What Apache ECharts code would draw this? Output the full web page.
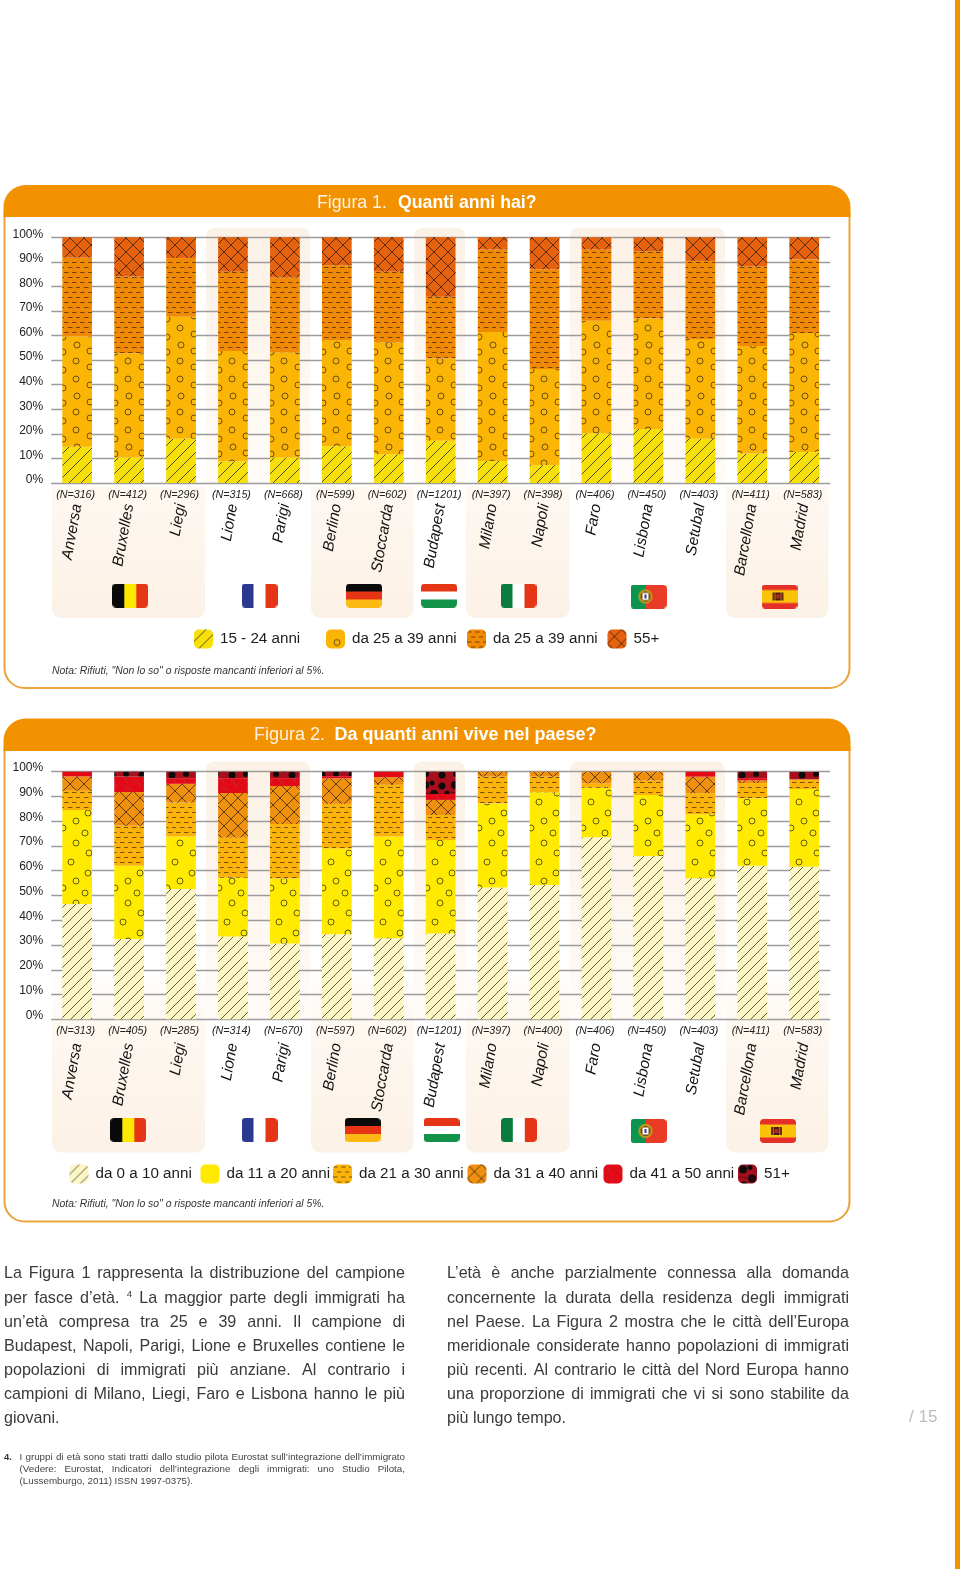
<!DOCTYPE html>
<html><head><meta charset="utf-8">
<style>html,body{margin:0;padding:0;background:#fff}#c{width:960px;height:1569px}</style>
<script src="https://cdn.jsdelivr.net/npm/echarts@6/dist/echarts.min.js"></script>
</head><body><div id="c"></div>
<script>
// ---------- data ----------
const cities = ['Anversa','Bruxelles','Liegi','Lione','Parigi','Berlino','Stoccarda','Budapest','Milano','Napoli','Faro','Lisbona','Setubal','Barcellona','Madrid'];
const yTicks = [0,10,20,30,40,50,60,70,80,90,100];
const nLabels1 = ['(N=316)','(N=412)','(N=296)','(N=315)','(N=668)','(N=599)','(N=602)','(N=1201)','(N=397)','(N=398)','(N=406)','(N=450)','(N=403)','(N=411)','(N=583)'];
const nLabels2 = ['(N=313)','(N=405)','(N=285)','(N=314)','(N=670)','(N=597)','(N=602)','(N=1201)','(N=397)','(N=400)','(N=406)','(N=450)','(N=403)','(N=411)','(N=583)'];
const age15to24 = [14.8,10.4,18,8.7,10.4,15,11.7,17.2,9,7.3,20.2,22,18,12,12.6];
const age25to39a = [44.8,42.4,49.7,45,42.8,43.2,45.6,33.5,52.5,39.1,45.8,45,40.6,43.8,48.4];
const age25to39b = [32.1,31.2,23.9,32.3,30.4,30.4,28.7,25.1,33.5,40.6,29,27.3,31.8,32.4,30];
const age55plus = [8.3,16,8.4,14,16.4,11.4,14,24.2,5,13,5,5.7,9.6,11.8,9];
const yrs0to10 = [46.6,32.4,52.6,33.4,30.6,34.3,32.7,34.7,53.2,54.2,73.5,66,57,62,61.6];
const yrs11to20 = [37.9,29.6,21.2,23.8,26.3,34.7,41.1,37.7,34,37.5,20,24.6,25.8,27.3,31.4];
const yrs21to30 = [7.8,16.2,13.7,16.2,22,18,20.9,10.1,10.8,6.3,1.8,5.8,8.5,6.1,3.9];
const yrs31to40 = [5.8,13.6,7.6,18,15.3,10.3,3.1,6.1,2,2,4.7,3.6,6.7,1.1,0];
const yrs41to50 = [1.9,6.2,2.3,6,3.2,0.9,2.2,2.4,0,0,0,0,2,0.9,0];
const yrs51plus = [0,2,2.6,2.6,2.6,1.8,0,9,0,0,0,0,0,2.6,3];
const legend1 = ['15 - 24 anni','da 25 a 39 anni','da 25 a 39 anni ','55+'];
const legend2 = ['da 0 a 10 anni','da 11 a 20 anni','da 21 a 30 anni','da 31 a 40 anni','da 41 a 50 anni','51+'];
const leftCol = [
 'La Figura 1 rappresenta la distribuzione del campione',
 'per fasce d’età. ^4 La maggior parte degli immigrati ha',
 'un’età compresa tra 25 e 39 anni. Il campione di',
 'Budapest, Napoli, Parigi, Lione e Bruxelles contiene le',
 'popolazioni di immigrati più anziane. Al contrario i',
 'campioni di Milano, Liegi, Faro e Lisbona hanno le più',
 'giovani.'];
const rightCol = [
 'L’età è anche parzialmente connessa alla domanda',
 'concernente la durata della residenza degli immigrati',
 'nel Paese. La Figura 2 mostra che le città dell’Europa',
 'meridionale considerate hanno popolazioni di immigrati',
 'più recenti. Al contrario le città del Nord Europa hanno',
 'una proporzione di immigrati che vi si sono stabilite da',
 'più lungo tempo.'];
const footnote = [
 'I gruppi di età sono stati tratti dallo studio pilota Eurostat sull’integrazione dell’immigrato',
 '(Vedere: Eurostat, Indicatori dell’integrazione degli immigrati: uno Studio Pilota,',
 '(Lussemburgo, 2011) ISSN 1997-0375).'];

// ---------- patterns ----------
const FF = "'Liberation Sans', Arial, sans-serif";
function tile(w,h,bg,draw){const c=document.createElement('canvas');c.width=w;c.height=h;const g=c.getContext('2d');g.fillStyle=bg;g.fillRect(0,0,w,h);draw(g,w,h);return {image:c,repeat:'repeat'};}
function diag(g,s,col,lw){g.strokeStyle=col;g.lineWidth=lw;g.beginPath();g.moveTo(-2,s+2);g.lineTo(s+2,-2);g.moveTo(-2,2);g.lineTo(2,-2);g.moveTo(s-2,s+2);g.lineTo(s+2,s-2);g.stroke();}
function anti(g,s,col,lw){g.strokeStyle=col;g.lineWidth=lw;g.beginPath();g.moveTo(-2,-2);g.lineTo(s+2,s+2);g.moveTo(-2,s-2);g.lineTo(2,s+2);g.moveTo(s-2,-2);g.lineTo(s+2,2);g.stroke();}
function hatch(s,bg,col,lw){return tile(s,s,bg,(g)=>diag(g,s,col,lw));}
function cross(s,bg,col,lw){return tile(s,s,bg,(g)=>{diag(g,s,col,lw);anti(g,s,col,lw);});}
function dashes(bg,col){return tile(16,10,bg,(g)=>{g.strokeStyle=col;g.lineWidth=0.9;g.beginPath();
  [[0,2.5],[8,2.5]].forEach(p=>{g.moveTo(p[0],p[1]);g.lineTo(p[0]+4.5,p[1]);});
  [[4,7.5],[12,7.5]].forEach(p=>{g.moveTo(p[0],p[1]);g.lineTo(p[0]+4.5,p[1]);});g.stroke();});}
function rings(bg,col,h,pts){
  return tile(52,h,bg,(g,w,hh)=>{g.strokeStyle=col;g.lineWidth=1;pts.forEach(p=>{[-w,0,w].forEach(dx=>[-hh,0,hh].forEach(dy=>{g.beginPath();g.arc(p[0]+dx,p[1]+dy,3,0,7);g.stroke();}));});});}
const patYellowHatch = hatch(12,'#F7DF0A','#2a2a1a',0.8);
const patAmberRings = rings('#FAB505','#6e4d10',51,[[24,4],[38,10],[11,13],[24,22],[38,28],[11,31],[25,39],[38,45],[11,46]]);
const patOrangeDash = dashes('#F08A05','#6a3a08');
const patRedCross = cross(14,'#E5620F','#3a1a0a',0.8);
const patPaleHatch = hatch(10,'#FCF6C4','#2a2a1a',0.75);
const patYellowRings = rings('#FFEA00','#5f5c10',60,[[24,3],[37,13],[19,22],[36,33],[24,41],[11,48],[33,53]]);
const patAmberDash = dashes('#FBB30A','#6a4a08');
const patOrangeCross = cross(14,'#F0900F','#3a2a0a',0.8);
const patRed = tile(24,18,'#E30A17',(g)=>{g.strokeStyle='rgba(130,110,110,.55)';g.lineWidth=0.8;g.beginPath();g.moveTo(3,2);g.lineTo(8,9);g.moveTo(15,5);g.lineTo(21,13);g.moveTo(6,13);g.lineTo(11,16);g.stroke();});
const patBlobs = tile(30,26,'#A80F1C',(g)=>{g.fillStyle='#0b0b0b';[[5,5,4],[12,3,2.5],[22,6,3.5],[27,13,2.5],[14,14,4],[6,20,3],[22,21,3.5]].forEach(b=>{g.beginPath();g.arc(b[0],b[1],b[2],0,7);g.fill();});
  g.strokeStyle='#5e0a10';g.lineWidth=1;g.beginPath();g.moveTo(0,12);g.lineTo(30,17);g.stroke();});

// ---------- flags ----------
function flag(draw){const c=document.createElement('canvas');c.width=36;c.height=24;const g=c.getContext('2d');g.beginPath();g.roundRect(0,0,36,24,4);g.clip();draw(g);return c;}
function vbars(g,a){a.forEach((col,i)=>{g.fillStyle=col;g.fillRect(i*12,0,12.5,24);});}
function hbars(g,a){a.forEach((col,i)=>{g.fillStyle=col;g.fillRect(0,i*8,36,8.5);});}
const flagBE = flag(g=>vbars(g,['#0a0a0a','#FFE800','#E53516']));
const flagFR = flag(g=>vbars(g,['#2B3A8F','#ffffff','#E53516']));
const flagDE = flag(g=>hbars(g,['#0a0a0a','#E53516','#FDB913']));
const flagHU = flag(g=>hbars(g,['#E53516','#ffffff','#13934A']));
const flagIT = flag(g=>vbars(g,['#0A7A3E','#ffffff','#E53516']));
const flagPT = flag(g=>{g.fillStyle='#E93B26';g.fillRect(0,0,36,24);g.fillStyle='#0F9450';g.fillRect(0,0,15,24);
  g.fillStyle='#C9A514';g.beginPath();g.arc(15,12,7,0,7);g.fill();g.fillStyle='#7A4A18';g.beginPath();g.arc(15,12,5.2,0,7);g.fill();g.fillStyle='#fff';g.fillRect(12,8.5,6,7);g.fillStyle='#2B3A8F';g.fillRect(14,10,2,4);});
const flagES = flag(g=>{g.fillStyle='#E5302A';g.fillRect(0,0,36,24);g.fillStyle='#FBC20A';g.fillRect(0,5.5,36,13);
  g.fillStyle='#6b2a12';g.fillRect(11,8,2,8);g.fillRect(20,8,2,8);g.fillStyle='#4a1d10';g.fillRect(13.5,8,6,8);g.fillStyle='#B5271C';g.fillRect(14.5,10,4,4);});

// ---------- graphics ----------
const gfx = [];
const add = (o)=>{o.silent=true;gfx.push(o);};
const txt = (x,y,s,font,fill,extra)=>add(Object.assign({type:'text',z:6,x:x,y:y,style:{text:s,font:font,fill:fill,align:'left',verticalAlign:'middle'}},extra||{}));
const BAND='#FCF1E6', ORANGE='#F39200', EDGE='#EBA33A';
function grad(stops){return {type:'linear',x:0,y:0,x2:0,y2:1,colorStops:stops};}
function panel(top,headBottom,bottom){
  add({type:'rect',z:-30,shape:{x:4.5,y:headBottom-3,width:845,height:bottom-headBottom+3,r:[0,0,20,20]},style:{fill:'#fff',stroke:EDGE,lineWidth:2}});
  add({type:'rect',z:-28,shape:{x:3.5,y:top,width:847,height:headBottom-top,r:[22,22,0,0]},style:{fill:ORANGE}});
}
function bands(topY,axisY,bottomY,fadeTop){
  [[206,104],[414,51],[570,155]].forEach(b=>add({type:'rect',z:-20,shape:{x:b[0],y:topY,width:b[1],height:axisY-topY,r:[8,8,0,0]},style:{fill:grad([{offset:0,color:BAND},{offset:1,color:'#FFFBF7'}])}}));
  [[52,153],[311,102.5],[466,103.5],[726,102.5]].forEach(b=>add({type:'rect',z:-20,shape:{x:b[0],y:fadeTop,width:b[1],height:bottomY-fadeTop,r:[0,0,9,9]},style:{fill:grad([{offset:0,color:'rgba(253,246,238,0)'},{offset:Math.min(0.99,(axisY+6-fadeTop)/(bottomY-fadeTop)),color:'#FEF8F1'},{offset:1,color:BAND}])}}));
}
function flags(list,w){list.forEach(f=>add({type:'image',z:-5,x:f[1],y:f[2],style:{image:f[0],x:0,y:0,width:w,height:24}}));}
function justify(line,x,w,y,size,fill,last){
  const ctx=document.createElement('canvas').getContext('2d');
  const font=size+"px "+FF, supFont=(size*0.6)+"px "+FF;
  const words=line.split(' ').map(t=>t[0]==='^'?{t:t.slice(1),sup:true}:{t:t,sup:false});
  words.forEach(o=>{ctx.font=o.sup?supFont:font;o.w=ctx.measureText(o.t).width;});
  ctx.font=font;const space=ctx.measureText(' ').width;
  const total=words.reduce((a,o)=>a+o.w,0);
  const gap=last?space:(w-total)/(words.length-1);
  let cx=x;words.forEach(o=>{txt(cx,o.sup?y-4:y,o.t,o.sup?supFont:font,fill);cx+=o.w+gap;});
}
add({type:'rect',z:-30,shape:{x:955,y:0,width:5,height:1569},style:{fill:ORANGE}});
panel(185,217,688);
panel(718.5,751,1221.5);
bands(228,483,618,484);
bands(761.5,1019.3,1152.5,966);
flags([[flagBE,112.3,583.5],[flagFR,241.5,583.5],[flagDE,346,583.5],[flagHU,421,583.5],[flagIT,500.5,583.5],[flagPT,630.5,584.5],[flagES,761.5,584.5]],36);
flags([[flagBE,110.3,1118],[flagFR,241.5,1118],[flagDE,344.5,1118],[flagHU,423.5,1118],[flagIT,500.8,1118],[flagPT,630.5,1119],[flagES,760,1119]],36);
txt(317,203,'Figura 1.',"17.7px "+FF,'rgba(255,255,255,.88)');
txt(398,203,'Quanti anni hai?',"bold 17.7px "+FF,'#fff');
txt(254,735,'Figura 2.',"18px "+FF,'rgba(255,255,255,.88)');
txt(334.5,735,'Da quanti anni vive nel paese?',"bold 18px "+FF,'#fff');
const notaText='Nota: Rifiuti, "Non lo so" o risposte mancanti inferiori al 5%.';
txt(52,671,notaText,"italic 10.4px "+FF,'#333');
txt(52,1204,notaText,"italic 10.4px "+FF,'#333');
const yBody=[1274,1298.2,1322.4,1346.5,1370.7,1394.9,1419];
leftCol.forEach((l,i)=>justify(l,4,401,yBody[i],16.1,'#3a3a39',i===leftCol.length-1));
rightCol.forEach((l,i)=>justify(l,447,402,yBody[i],16.1,'#3a3a39',i===rightCol.length-1));
txt(4,1457.5,'4.',"bold 9.4px "+FF,'#333');
[1457.5,1469.5,1481.5].forEach((y,i)=>justify(footnote[i],19.5,385.5,y,9.8,'#444',i===2));
txt(909,1417.5,'/ 15',"17px "+FF,'#bdbdbd');

// ---------- chart ----------
function axes(gridIdx,n){return [
 {type:'category',gridIndex:gridIdx,data:n,position:'bottom',axisLine:{show:false},axisTick:{show:false},
  axisLabel:{interval:0,margin:gridIdx?6:7,fontSize:10.7,fontStyle:'italic',fontFamily:FF,color:'#222',padding:[0,3,0,0],hideOverlap:false}},
 {type:'category',gridIndex:gridIdx,data:cities,position:'bottom',axisLine:{show:false},axisTick:{show:false},
  axisLabel:{interval:0,margin:gridIdx?24:21,rotate:80,fontSize:15.4,fontStyle:'italic',fontFamily:FF,color:'#111',padding:[0,0,4,0],hideOverlap:false}}
];}
function yAx(gridIdx,lh){return {type:'value',gridIndex:gridIdx,min:yTicks[0],max:yTicks[yTicks.length-1],interval:yTicks[1]-yTicks[0],
  axisLine:{show:false},axisTick:{show:false},
  axisLabel:{formatter:'{value}%',margin:8,fontSize:12,fontFamily:FF,color:'#222',verticalAlign:'bottom',lineHeight:lh},
  splitLine:{show:true,lineStyle:{color:'#9c9c9c',width:1.4}}};}
function ser(name,data,pat,x,y,st){return {type:'bar',name:name,data:data,stack:st,xAxisIndex:x,yAxisIndex:y,barWidth:29.7,itemStyle:{color:pat,borderWidth:0},silent:true,emphasis:{disabled:true}};}
function leg(name,x,top){return {data:[name],left:x,top:top,padding:0,itemWidth:19,itemHeight:19,icon:'roundRect',selectedMode:false,orient:'horizontal',
  textStyle:{fontSize:15.2,fontFamily:FF,color:'#1d1d1b',padding:[0,0,0,2]}};}
const option={
 animation:false,backgroundColor:'#fff',
 grid:[{left:51.2,width:779,top:237.3,height:245.7},{left:51.2,width:779,top:771.7,height:247.6}],
 xAxis:[...axes(0,nLabels1),...axes(1,nLabels2)],
 yAxis:[yAx(0,6),yAx(1,8)],
 legend:[leg(legend1[0],194,629.5),leg(legend1[1],326,629.5),leg(legend1[2],467,629.5),leg(legend1[3],607.5,629.5),
   leg(legend2[0],69.5,1164.5),leg(legend2[1],200.5,1164.5),leg(legend2[2],333,1164.5),leg(legend2[3],467.5,1164.5),leg(legend2[4],603.5,1164.5),leg(legend2[5],738,1164.5)],
 series:[
  ser(legend1[0],age15to24,patYellowHatch,0,0,'f1'),
  ser(legend1[1],age25to39a,patAmberRings,0,0,'f1'),
  ser(legend1[2],age25to39b,patOrangeDash,0,0,'f1'),
  ser(legend1[3],age55plus,patRedCross,0,0,'f1'),
  ser(legend2[0],yrs0to10,patPaleHatch,2,1,'f2'),
  ser(legend2[1],yrs11to20,patYellowRings,2,1,'f2'),
  ser(legend2[2],yrs21to30,patAmberDash,2,1,'f2'),
  ser(legend2[3],yrs31to40,patOrangeCross,2,1,'f2'),
  ser(legend2[4],yrs41to50,patRed,2,1,'f2'),
  ser(legend2[5],yrs51plus,patBlobs,2,1,'f2')
 ],
 graphic:{elements:gfx}
};
const chart=echarts.init(document.getElementById('c'),null,{renderer:'canvas',width:960,height:1569});
chart.setOption(option);
</script></body></html>
